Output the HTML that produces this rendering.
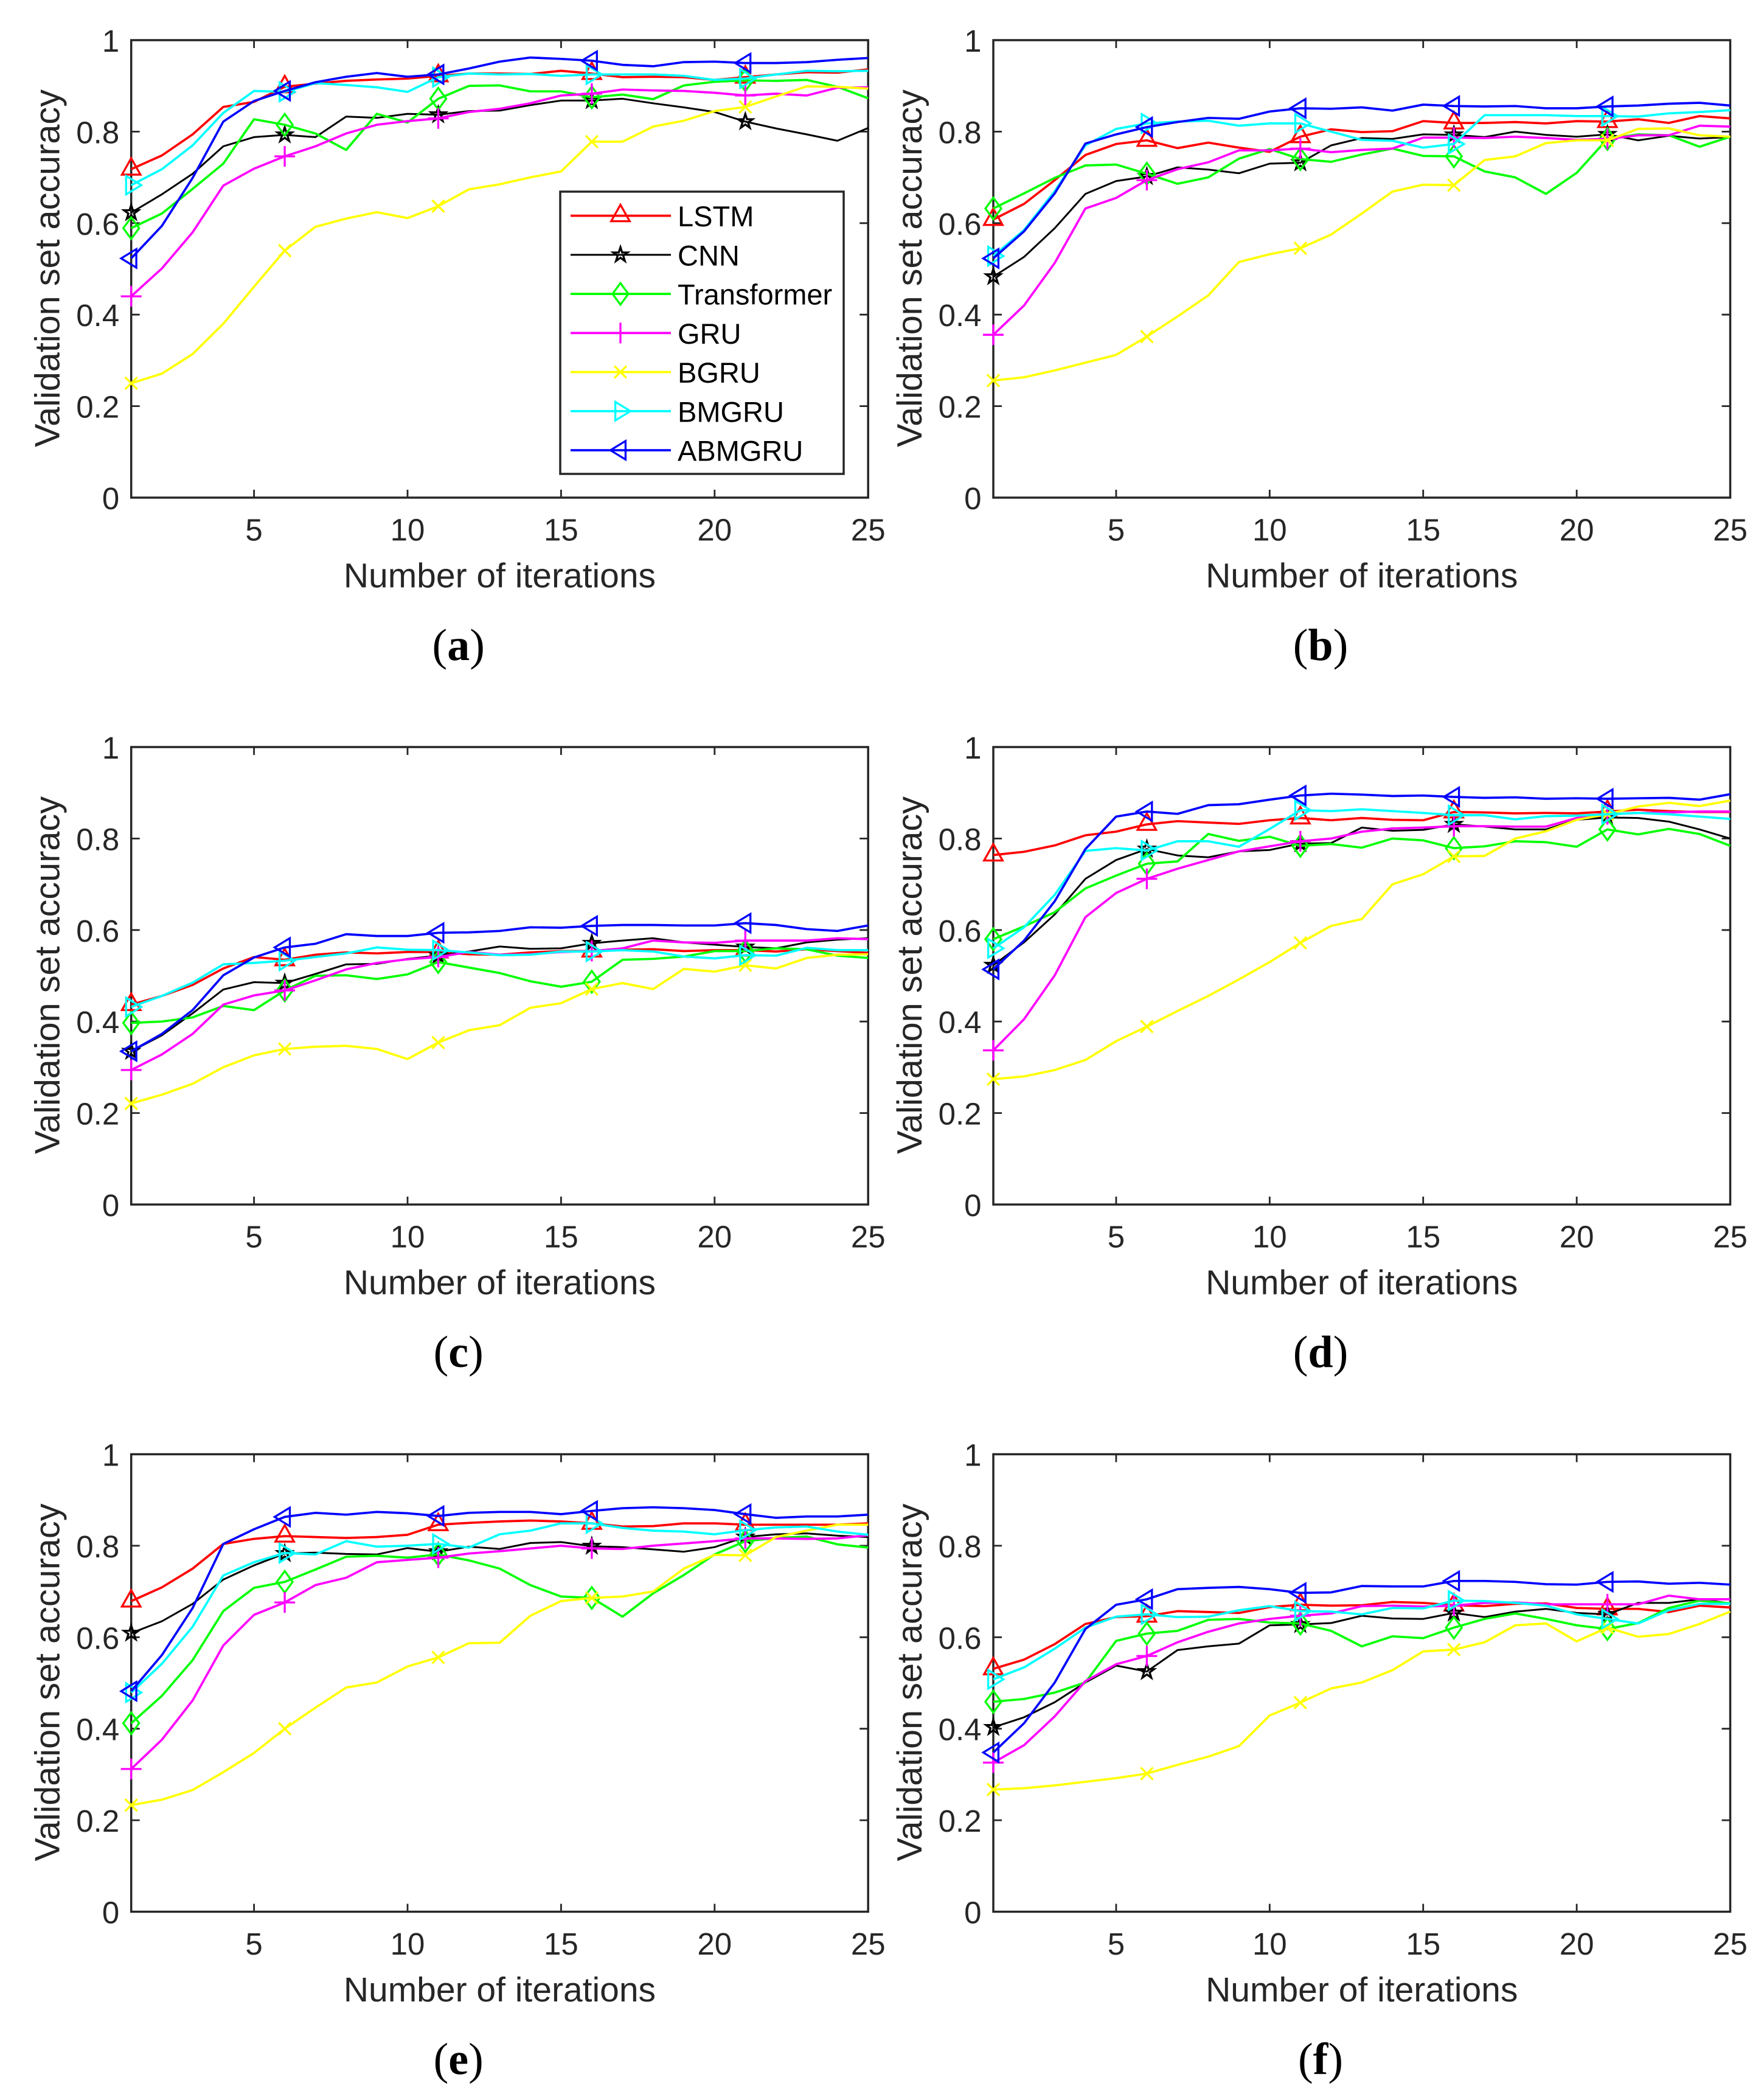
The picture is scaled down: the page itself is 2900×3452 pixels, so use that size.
<!DOCTYPE html>
<html lang="en">
<head>
<meta charset="utf-8">
<title>Validation set accuracy by iteration</title>
<style>
html,body{margin:0;padding:0;background:#fff;width:2900px;height:3452px;overflow:hidden}
svg{display:block}
text{font-family:"Liberation Sans",sans-serif}
</style>
</head>
<body>
<svg id="figure" xmlns="http://www.w3.org/2000/svg" width="2900" height="3452" viewBox="0 0 2900 3452"></svg>
<script>
const iterations = [1,2,3,4,5,6,7,8,9,10,11,12,13,14,15,16,17,18,19,20,21,22,23,24,25];
const xTickValues = [5,10,15,20,25];
const yTickValues = [0,0.2,0.4,0.6,0.8,1];
const yTickLabels = ['0','0.2','0.4','0.6','0.8','1'];
const markerIterations = [1,6,11,16,21];
const seriesNames = ['LSTM','CNN','Transformer','GRU','BGRU','BMGRU','ABMGRU'];
const panelLetters = ['a','b','c','d','e','f'];

const aLSTM = [.718,.748,.794,.854,.865,.898,.905,.911,.914,.916,.922,.927,.927,.926,.933,.927,.919,.92,.919,.913,.919,.925,.93,.929,.936];
const aCNN = [.623,.663,.708,.768,.788,.793,.788,.833,.83,.839,.837,.845,.846,.858,.868,.868,.872,.862,.853,.843,.822,.807,.794,.78,.808];
const aTransformer = [.589,.621,.675,.73,.827,.815,.796,.76,.839,.82,.872,.9,.901,.888,.888,.875,.881,.871,.901,.909,.912,.911,.913,.898,.873];
const aGRU = [.44,.501,.58,.682,.719,.746,.768,.796,.815,.823,.829,.843,.85,.862,.879,.883,.892,.89,.889,.885,.879,.883,.879,.896,.897];
const aBGRU = [.25,.271,.314,.38,.461,.54,.592,.61,.624,.611,.637,.674,.685,.70,.713,.778,.778,.811,.824,.845,.854,.877,.899,.898,.894];
const aBMGRU = [.683,.718,.77,.841,.889,.887,.906,.902,.897,.887,.919,.927,.925,.926,.922,.925,.925,.925,.922,.913,.916,.925,.933,.932,.933];
const aABMGRU = [.523,.594,.699,.822,.867,.889,.908,.92,.928,.92,.925,.938,.953,.962,.959,.955,.946,.943,.952,.953,.95,.95,.952,.957,.961];

const bLSTM = [.608,.642,.694,.749,.773,.781,.764,.776,.765,.756,.789,.805,.799,.801,.823,.819,.819,.821,.818,.823,.822,.827,.819,.834,.829];
const bCNN = [.483,.526,.589,.664,.692,.702,.722,.717,.709,.73,.732,.77,.786,.784,.794,.793,.788,.80,.793,.789,.794,.781,.791,.785,.788];
const bTransformer = [.632,.665,.699,.726,.728,.708,.686,.70,.741,.762,.74,.734,.75,.763,.747,.746,.713,.70,.664,.71,.784,.794,.792,.767,.789];
const bGRU = [.356,.42,.513,.632,.655,.694,.718,.733,.759,.759,.763,.755,.76,.763,.787,.787,.786,.789,.786,.782,.784,.792,.792,.813,.811];
const bBGRU = [.256,.263,.278,.295,.312,.352,.396,.442,.515,.532,.545,.575,.621,.669,.684,.683,.738,.746,.775,.781,.781,.806,.807,.792,.789];
const bBMGRU = [.528,.585,.67,.77,.806,.818,.822,.824,.813,.818,.818,.80,.782,.78,.765,.773,.836,.836,.836,.834,.834,.833,.84,.843,.847];
const bABMGRU = [.523,.582,.665,.774,.794,.81,.821,.83,.828,.844,.851,.85,.853,.846,.859,.856,.855,.856,.851,.851,.855,.857,.861,.863,.857];

const cLSTM = [.437,.456,.48,.516,.541,.535,.546,.551,.549,.552,.552,.547,.546,.551,.554,.554,.557,.558,.554,.556,.556,.553,.558,.554,.55];
const cCNN = [.335,.37,.418,.47,.486,.484,.504,.525,.526,.537,.544,.553,.564,.559,.56,.571,.577,.582,.573,.568,.563,.56,.573,.579,.582];
const cTransformer = [.397,.40,.409,.434,.425,.468,.50,.501,.493,.503,.53,.518,.506,.488,.476,.487,.535,.537,.542,.554,.554,.56,.558,.544,.539];
const cGRU = [.294,.328,.373,.437,.457,.468,.49,.514,.528,.536,.541,.552,.546,.547,.552,.554,.56,.577,.573,.572,.577,.577,.577,.582,.58];
const cBGRU = [.221,.24,.264,.30,.326,.34,.345,.347,.34,.318,.354,.381,.392,.43,.44,.471,.484,.471,.515,.509,.523,.516,.539,.546,.547];
const cBMGRU = [.432,.456,.485,.525,.528,.533,.541,.549,.562,.557,.556,.551,.545,.546,.553,.553,.556,.553,.542,.538,.545,.544,.561,.556,.556];
const cABMGRU = [.335,.373,.425,.501,.54,.562,.57,.591,.587,.587,.594,.595,.598,.606,.605,.609,.611,.611,.61,.61,.615,.611,.602,.598,.61];

const dLSTM = [.764,.771,.785,.807,.815,.831,.838,.835,.832,.84,.845,.84,.845,.841,.84,.858,.857,.855,.856,.855,.859,.863,.86,.858,.858];
const dCNN = [.523,.573,.634,.712,.753,.777,.763,.759,.772,.775,.789,.79,.824,.817,.819,.831,.826,.82,.82,.841,.846,.845,.837,.82,.80];
const dTransformer = [.58,.608,.639,.691,.719,.745,.75,.81,.795,.804,.784,.788,.78,.80,.796,.779,.783,.794,.792,.782,.82,.809,.821,.81,.784];
const dGRU = [.337,.405,.501,.628,.681,.712,.734,.753,.772,.783,.794,.80,.815,.822,.824,.827,.827,.826,.826,.845,.853,.856,.857,.859,.859];
const dBGRU = [.274,.28,.294,.316,.357,.389,.423,.456,.492,.53,.572,.609,.624,.70,.722,.761,.762,.80,.816,.841,.853,.87,.878,.871,.883];
const dBMGRU = [.56,.606,.677,.773,.779,.774,.794,.794,.782,.821,.862,.86,.864,.86,.856,.851,.851,.842,.849,.85,.853,.856,.853,.848,.843];
const dABMGRU = [.514,.577,.663,.777,.848,.859,.854,.873,.875,.885,.894,.898,.896,.893,.894,.891,.889,.89,.887,.888,.887,.888,.889,.885,.897];

const eLSTM = [.679,.709,.75,.804,.815,.821,.819,.817,.819,.824,.846,.85,.853,.855,.853,.849,.842,.843,.849,.849,.846,.846,.846,.846,.849];
const eCNN = [.609,.635,.673,.726,.757,.783,.785,.782,.781,.795,.787,.798,.793,.806,.808,.799,.797,.792,.787,.797,.819,.825,.827,.822,.819];
const eTransformer = [.412,.472,.55,.657,.708,.721,.748,.776,.778,.774,.781,.768,.75,.714,.689,.686,.645,.696,.736,.781,.81,.817,.82,.803,.796];
const eGRU = [.312,.376,.462,.582,.649,.676,.714,.73,.764,.769,.774,.783,.788,.794,.80,.794,.793,.80,.805,.81,.816,.816,.815,.816,.823];
const eBGRU = [.233,.245,.266,.305,.347,.40,.446,.49,.501,.536,.556,.587,.588,.647,.679,.686,.689,.70,.75,.78,.779,.819,.833,.846,.846];
const eBMGRU = [.479,.542,.623,.735,.764,.784,.781,.81,.798,.80,.804,.796,.825,.833,.849,.849,.839,.833,.831,.825,.834,.84,.842,.831,.824];
const eABMGRU = [.482,.561,.664,.804,.836,.863,.872,.868,.874,.871,.865,.872,.874,.874,.869,.876,.882,.884,.882,.878,.869,.861,.864,.864,.868];

const fLSTM = [.531,.551,.585,.629,.644,.646,.657,.655,.653,.666,.671,.669,.67,.677,.675,.67,.668,.673,.674,.664,.662,.662,.655,.669,.665];
const fCNN = [.403,.425,.458,.501,.538,.525,.572,.58,.586,.626,.628,.631,.647,.641,.64,.653,.644,.656,.662,.653,.65,.675,.675,.683,.674];
const fTransformer = [.459,.465,.479,.501,.592,.608,.614,.638,.64,.632,.63,.614,.58,.602,.598,.621,.64,.652,.64,.626,.618,.631,.664,.68,.674];
const fGRU = [.326,.364,.427,.504,.541,.559,.589,.612,.63,.64,.647,.652,.668,.669,.667,.669,.675,.676,.672,.672,.672,.672,.691,.683,.683];
const fBGRU = [.267,.27,.276,.284,.292,.302,.321,.339,.362,.429,.457,.488,.501,.528,.569,.573,.589,.626,.63,.591,.621,.601,.607,.629,.656];
const fBMGRU = [.508,.534,.575,.621,.645,.65,.644,.645,.659,.668,.657,.656,.65,.664,.663,.68,.679,.675,.669,.65,.64,.63,.659,.673,.673];
const fABMGRU = [.348,.412,.501,.618,.671,.683,.705,.708,.71,.705,.697,.698,.712,.711,.711,.723,.723,.721,.716,.715,.721,.722,.717,.719,.715];

const panelSeries = [
  [aLSTM,aCNN,aTransformer,aGRU,aBGRU,aBMGRU,aABMGRU],
  [bLSTM,bCNN,bTransformer,bGRU,bBGRU,bBMGRU,bABMGRU],
  [cLSTM,cCNN,cTransformer,cGRU,cBGRU,cBMGRU,cABMGRU],
  [dLSTM,dCNN,dTransformer,dGRU,dBGRU,dBMGRU,dABMGRU],
  [eLSTM,eCNN,eTransformer,eGRU,eBGRU,eBMGRU,eABMGRU],
  [fLSTM,fCNN,fTransformer,fGRU,fBGRU,fBMGRU,fABMGRU]
];

const NS = 'http://www.w3.org/2000/svg';
const fig = document.getElementById('figure');
const colors = ['#ff0000','#000000','#00ff00','#ff00ff','#ffff00','#00ffff','#0000ff'];
const widths = [3.7,3,3.7,3.7,3.7,3.7,3.7];
const markers = ['tri-up','star','diamond','plus','cross','tri-right','tri-left'];
const AXIS = '#262626';
const MS = 3.3;
const W = 1211.5, H = 752;
const lefts = [215.7,1633];
const tops = [66,1228,2390.5];

function mk(tag, attrs, parent){
  const el = document.createElementNS(NS, tag);
  for (const k in attrs) el.setAttribute(k, attrs[k]);
  parent.appendChild(el);
  return el;
}
function slug(s){ return s.toLowerCase(); }
function markerPoints(kind, cx, cy){
  const offsets = {
    'tri-up':[[0,-18],[-15.2,9],[15.2,9]],
    'tri-right':[[-8.4,-15.2],[16.6,0],[-8.4,15.2]],
    'tri-left':[[8.4,-15.2],[-16.6,0],[8.4,15.2]],
    'diamond':[[0,-17.7],[13,0],[0,17.7],[-13,0]]
  }[kind];
  return offsets.map(p => (cx+p[0])+','+(cy+p[1])).join(' ');
}
function drawMarker(i, cx, cy, parent){
  const kind = markers[i];
  const stroke = colors[i];
  let el;
  if (kind === 'plus') {
    el = mk('path', {d:`M${cx-17} ${cy}H${cx+17}M${cx} ${cy-17}V${cy+17}`, fill:'none', stroke:stroke, 'stroke-width':MS}, parent);
  } else if (kind === 'cross') {
    el = mk('path', {d:`M${cx-10} ${cy-10}L${cx+10} ${cy+10}M${cx-10} ${cy+10}L${cx+10} ${cy-10}`, fill:'none', stroke:stroke, 'stroke-width':MS}, parent);
  } else if (kind === 'star') {
    const pts = [];
    for (let k = 0; k < 10; k++) {
      const r = k % 2 ? 4.8 : 12.5;
      const a = -Math.PI/2 + k*Math.PI/5;
      pts.push((cx + r*Math.cos(a)).toFixed(1) + ',' + (cy + r*Math.sin(a)).toFixed(1));
    }
    el = mk('polygon', {points:pts.join(' '), fill:'none', stroke:stroke, 'stroke-width':MS}, parent);
  } else {
    el = mk('polygon', {points:markerPoints(kind, cx, cy), fill:'none', stroke:stroke, 'stroke-width':MS, 'stroke-linejoin':'miter'}, parent);
  }
  
  
}

panelSeries.forEach((series, p) => {
  const left = lefts[p % 2];
  const top = tops[Math.floor(p / 2)];
  const bottom = top + H;
  const right = left + W;
  const xScale = v => left + (v - 1) * W / 24;
  const yScale = v => top + (1 - v) * H;

  const g = mk('g', {}, fig);
  
  

  const frame = mk('rect', {x:left, y:top, width:W, height:H, fill:'#fff', stroke:AXIS, 'stroke-width':3.5}, g);
  
  

  xTickValues.forEach(v => {
    const x = xScale(v);
    const t = mk('path', {d:`M${x} ${bottom}v-13M${x} ${top}v13`, stroke:AXIS, 'stroke-width':2.8, fill:'none'}, g);
    
    
    const l = mk('text', {x:x, y:bottom+70.3, 'font-size':51, fill:AXIS, 'text-anchor':'middle'}, g);
    
    
    l.textContent = String(v);
  });
  yTickValues.forEach((v, k) => {
    const y = yScale(v);
    const t = mk('path', {d:`M${left} ${y}h14M${right} ${y}h-14`, stroke:AXIS, 'stroke-width':2.8, fill:'none'}, g);
    
    
    const l = mk('text', {x:left-19.5, y:y+19, 'font-size':51, fill:AXIS, 'text-anchor':'end'}, g);
    
    
    l.textContent = yTickLabels[k];
  });

  const xt = mk('text', {x:left+W/2, y:bottom+147.7, 'font-size':57, fill:AXIS, 'text-anchor':'middle'}, g);
  
  
  xt.textContent = 'Number of iterations';

  const yx = left - 118, yy = top + H/2 - 1;
  const yt = mk('text', {x:yx, y:yy, 'font-size':57.6, fill:AXIS, 'text-anchor':'middle', transform:`rotate(-90 ${yx} ${yy})`}, g);
  
  
  yt.textContent = 'Validation set accuracy';

  series.forEach((vals, s) => {
    const sg = mk('g', {}, g);
    
    
    const line = mk('polyline', {
      points: vals.map((v, i) => xScale(iterations[i]).toFixed(1) + ',' + yScale(v).toFixed(1)).join(' '),
      fill:'none', stroke:colors[s], 'stroke-width':widths[s], 'stroke-linejoin':'round'
    }, sg);
    
    
    markerIterations.forEach(it => {
      drawMarker(s, xScale(it), yScale(vals[it - 1]), sg);
    });
  });

  const cap = mk('text', {x:left+538, y:bottom+267, 'font-size':74, fill:'#000', 'text-anchor':'middle'}, g);
  
  
  cap.style.fontFamily = '"Liberation Serif",serif';
  mk('tspan', {}, cap).textContent = '(';
  mk('tspan', {'font-weight':'bold'}, cap).textContent = panelLetters[p];
  mk('tspan', {}, cap).textContent = ')';
});

const legend = mk('g', {}, fig);


const legendBox = mk('rect', {x:921, y:315, width:466, height:464, fill:'#fff', stroke:AXIS, 'stroke-width':3.5}, legend);


seriesNames.forEach((name, i) => {
  const y = 354.6 + i * 64.25;
  const e = mk('g', {}, legend);
  
  
  const l = mk('line', {x1:938, x2:1103, y1:y, y2:y, stroke:colors[i], 'stroke-width':widths[i]}, e);
  
  
  drawMarker(i, 1020, y, e);
  const t = mk('text', {x:1114, y:y+17.5, 'font-size':47, fill:'#000'}, e);
  
  
  t.textContent = name;
});
</script>
</body>
</html>
